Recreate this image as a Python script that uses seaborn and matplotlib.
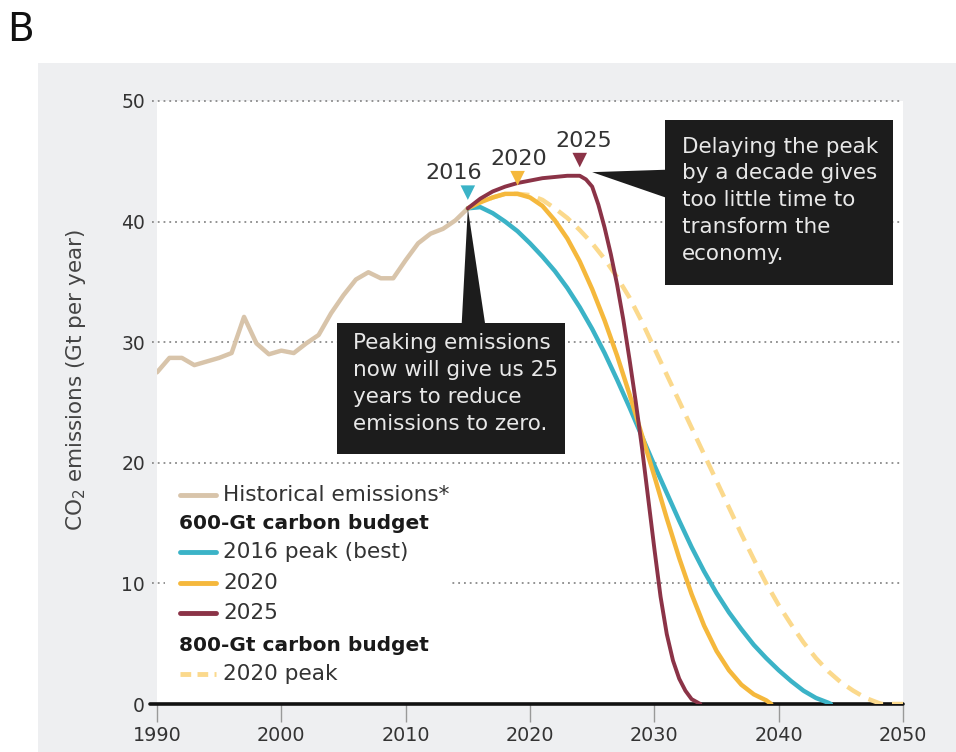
import numpy as np
import pandas as pd
import matplotlib
matplotlib.use("Agg")
import matplotlib.pyplot as plt
from matplotlib.patches import Rectangle, Polygon
from matplotlib.lines import Line2D
import seaborn as sns

# ---------------- data ----------------
hist_years = list(range(1990, 2016))
hist_values = [27.5, 28.7, 28.7, 28.1, 28.4, 28.7, 29.1, 32.1, 29.9, 29.0,
               29.3, 29.1, 29.9, 30.6, 32.4, 33.9, 35.2, 35.8, 35.3, 35.3,
               36.8, 38.2, 39.0, 39.4, 40.1, 41.1]

peak2016_years = list(range(2015, 2045)) + [2044.2]
peak2016_values = [41.1, 41.2, 40.7, 40.0, 39.2, 38.2, 37.1, 35.9, 34.5, 32.9,
                   31.1, 29.1, 26.9, 24.6, 22.2, 19.8, 17.5, 15.2, 13.0, 11.0,
                   9.2, 7.6, 6.2, 4.9, 3.8, 2.8, 1.9, 1.1, 0.5, 0.1, 0.0]

peak2020_years = list(range(2015, 2040)) + [2039.4]
peak2020_values = [41.1, 41.6, 42.0, 42.3, 42.3, 42.0, 41.3, 40.1, 38.6, 36.7,
                   34.4, 31.8, 28.9, 25.7, 22.3, 18.9, 15.4, 12.1, 9.1, 6.5,
                   4.4, 2.8, 1.6, 0.8, 0.3, 0.0]

peak2025_years = [2015, 2016, 2017, 2018, 2019, 2020, 2021, 2022, 2023, 2024,
                  2024.5, 2025, 2025.5, 2026, 2026.5, 2027, 2027.5, 2028, 2028.5,
                  2029, 2029.5, 2030, 2030.5, 2031, 2031.5, 2032, 2032.5, 2033, 2033.7]
peak2025_values = [41.1, 41.9, 42.5, 42.9, 43.2, 43.4, 43.6, 43.7, 43.8, 43.8,
                   43.5, 42.9, 41.4, 39.5, 37.3, 34.8, 31.9, 28.6, 25.1,
                   21.3, 17.1, 12.9, 8.9, 5.8, 3.6, 2.1, 1.1, 0.4, 0.0]

b800_years = list(range(2015, 2049)) + [2048.3, 2050]
b800_values = [41.1, 41.6, 42.0, 42.3, 42.3, 42.2, 41.8, 41.1, 40.3, 39.3,
               38.2, 36.9, 35.4, 33.7, 31.7, 29.5, 27.3, 25.1, 22.9, 20.7,
               18.5, 16.3, 14.1, 12.0, 10.0, 8.2, 6.6, 5.1, 3.8, 2.7,
               1.8, 1.1, 0.5, 0.1, 0.0, 0.0]

marker_labels = ["2016", "2020", "2025"]
marker_years = [2015, 2019, 2024]

x_ticks = [1990, 2000, 2010, 2020, 2030, 2040, 2050]
y_ticks = [0, 10, 20, 30, 40, 50]

C_HIST = "#d8c4aa"
C_TEAL = "#3bb3c7"
C_YEL = "#f5b83c"
C_MAR = "#8b3347"
C_DASH = "#fbd98c"

# ---------------- figure ----------------
sns.set_style("white")
plt.rcParams["font.family"] = ["DejaVu Sans"]

fig = plt.figure(figsize=(9.56, 7.52), dpi=100)
fig.patches.append(Rectangle((38 / 956, 0), 1 - 38 / 956, (752 - 63) / 752,
                             transform=fig.transFigure, facecolor="#eeeff1",
                             edgecolor="none", zorder=-10))
ax = fig.add_axes([157 / 956, 48 / 752, 746 / 956, 603 / 752])
ax.set_facecolor("white")
ax.set_xlim(1990, 2050)
ax.set_ylim(0, 50)
for s in ax.spines.values():
    s.set_visible(False)

# grid lines (dotted)
for yv in y_ticks[1:]:
    ax.axhline(yv, xmin=-0.007, xmax=0.996, color="#8a8a8a", lw=1.3,
               ls=(0, (1, 2.2)), clip_on=False, zorder=0.5)
ax.axhline(0, xmin=-0.009, xmax=1.0, color="#111111", lw=2.6, clip_on=False, zorder=2.5)

# legend background covering gridline
ax.add_patch(Rectangle((0.0107, 0.02), 0.381, 0.355, transform=ax.transAxes,
                       facecolor="white", edgecolor="none", zorder=1))

# series
sns.lineplot(x=hist_years, y=hist_values, ax=ax, color=C_HIST, lw=3.2, zorder=3)
sns.lineplot(x=b800_years, y=b800_values, ax=ax, color=C_DASH, lw=3.2,
             linestyle=(0, (3.5, 2.0)), zorder=3)
sns.lineplot(x=peak2016_years, y=peak2016_values, ax=ax, color=C_TEAL, lw=3.2, zorder=3.2)
sns.lineplot(x=peak2020_years, y=peak2020_values, ax=ax, color=C_YEL, lw=3.2, zorder=3.3)
sns.lineplot(x=peak2025_years, y=peak2025_values, ax=ax, color=C_MAR, lw=2.8, zorder=3.4)

# peak markers
series = [(peak2016_years, peak2016_values, C_TEAL),
          (peak2020_years, peak2020_values, C_YEL),
          (peak2025_years, peak2025_values, C_MAR)]
label_dx = [-1.1, 0.1, 0.3]
for (xs, ys, c), lab, my, dx in zip(series, marker_labels, marker_years, label_dx):
    yv = float(np.interp(my, xs, ys)) + 1.3
    ax.scatter([my], [yv], marker="v", s=110, color=c, edgecolor="none", zorder=5)
    ax.text(my + dx, yv + 1.6, lab, fontsize=16, color="#333333", ha="center",
            va="center", zorder=5)

# annotation 1
ax.add_patch(Rectangle((2004.48, 20.73), 2022.82 - 2004.48, 31.59 - 20.73,
                       facecolor="#1c1c1c", edgecolor="none", zorder=6))
ax.add_patch(Polygon([(2014.51, 31.59), (2016.38, 31.59),
                      (hist_years[-1], hist_values[-1])],
                     closed=True, facecolor="#1c1c1c", edgecolor="none", zorder=6))
ax.text(2005.75, 30.75, "Peaking emissions\nnow will give us 25\nyears to reduce\nemissions to zero.",
        fontsize=15.5, color="#e8e8e8", ha="left", va="top", linespacing=1.43, zorder=7)

# annotation 2
ax.add_patch(Rectangle((2030.86, 34.74), 2049.2 - 2030.86, 48.42 - 34.74,
                       facecolor="#1c1c1c", edgecolor="none", zorder=6, clip_on=False))
ax.add_patch(Polygon([(2025.0, 44.1), (2030.9, 44.3), (2030.9, 42.0)],
                     closed=True, facecolor="#1c1c1c", edgecolor="none", zorder=6))
ax.text(2032.2, 47.05, "Delaying the peak\nby a decade gives\ntoo little time to\ntransform the\neconomy.",
        fontsize=15.5, color="#e8e8e8", ha="left", va="top", linespacing=1.43, zorder=7)

# legend (manual, to allow section headers)
legend_items = [
    ("line", "Historical emissions*", C_HIST, "-"),
    ("head", "600-Gt carbon budget", None, None),
    ("line", "2016 peak (best)", C_TEAL, "-"),
    ("line", "2020", C_YEL, "-"),
    ("line", "2025", C_MAR, "-"),
    ("head", "800-Gt carbon budget", None, None),
    ("line", "2020 peak", C_DASH, (0, (2.2, 1.3))),
]
row_y = [0.3466, 0.300, 0.252, 0.2007, 0.151, 0.0978, 0.0498]
for (kind, txt, c, ls), ry in zip(legend_items, row_y):
    if kind == "head":
        ax.text(0.0295, ry, txt, transform=ax.transAxes, fontsize=14.5,
                fontweight="bold", color="#1a1a1a", ha="left", va="center", zorder=7)
    else:
        ax.add_line(Line2D([0.0308, 0.079], [ry, ry], transform=ax.transAxes,
                           color=c, lw=3.5, ls=ls, zorder=7))
        ax.text(0.0885, ry, txt, transform=ax.transAxes, fontsize=15.6,
                color="#333333", ha="left", va="center", zorder=7)

# axes ticks and labels
ax.set_xticks(x_ticks)
ax.set_yticks(y_ticks)
ax.tick_params(axis="x", length=13, width=1, color="#999999", labelsize=13.8,
               labelcolor="#333333", pad=2.5, direction="out", bottom=True)
ax.tick_params(axis="y", length=0, labelsize=13.5, labelcolor="#333333", pad=8.6, left=True)
ax.set_xlabel("")
ax.set_ylabel("CO$_2$ emissions (Gt per year)", fontsize=15.5, color="#444444")
ax.yaxis.set_label_coords(-0.093, 0.537)

fig.text(0.0075, 0.986, "B", fontsize=28, color="#111111", ha="left", va="top")

fig.savefig("out.png", dpi=100)
